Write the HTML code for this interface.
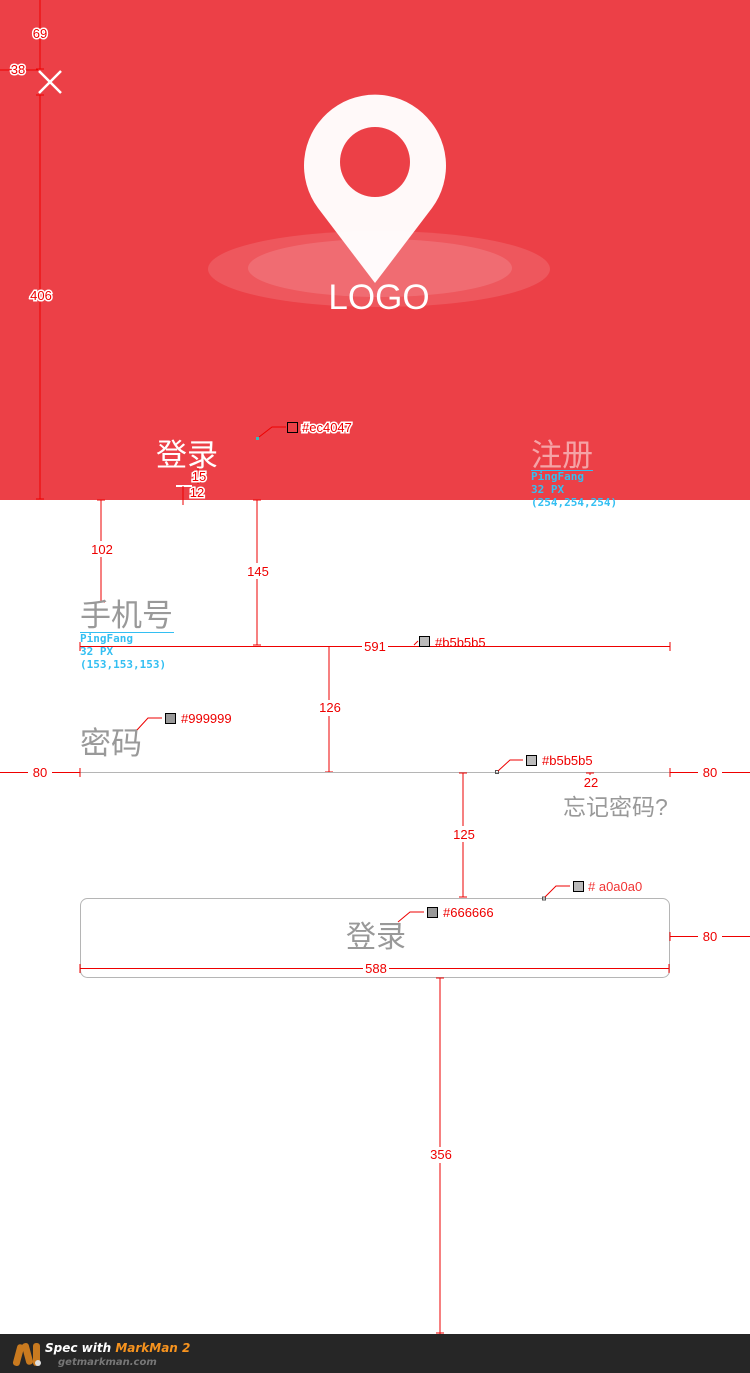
<!DOCTYPE html>
<html><head><meta charset="utf-8"><style>
html,body{margin:0;padding:0;background:#fff;}
svg{display:block;}
.r{fill:#e00;font-family:"Liberation Sans","DejaVu Sans",sans-serif;font-size:13px;}
.rw{fill:#e00;stroke:#fff;stroke-width:3px;paint-order:stroke;font-family:"Liberation Sans",sans-serif;font-size:13px;}
.b{fill:#33bff2;font-family:"DejaVu Sans Mono","Liberation Mono",monospace;font-weight:bold;font-size:11px;}
.cjk{font-family:"Liberation Sans","Noto Sans CJK SC",sans-serif;}
</style></head><body>
<svg width="750" height="1373" viewBox="0 0 750 1373" xmlns="http://www.w3.org/2000/svg">
<rect x="0" y="0" width="750" height="500" fill="#ec4047"/>
<ellipse cx="379" cy="269" rx="171" ry="38" fill="#fff" opacity="0.12"/>
<ellipse cx="380" cy="268" rx="132" ry="29" fill="#fff" opacity="0.13"/>
<path d="M375 283 L318 208 A71 71 0 1 1 432 208 Z" fill="#fff" opacity="0.97"/>
<circle cx="375" cy="162" r="35" fill="#ec4047"/>
<text x="379" y="309" text-anchor="middle" fill="#fff" font-family="Liberation Sans,sans-serif" font-size="35" font-weight="300">LOGO</text>
<path d="M39 71 L61 93 M61 71 L39 93" stroke="#fff" stroke-width="2.5"/>
<g stroke="#e00" stroke-width="1">
<line x1="40" y1="0" x2="40" y2="69"/><line x1="36" y1="69" x2="44" y2="69"/>
<line x1="0" y1="70" x2="38" y2="70"/>
<line x1="40" y1="95" x2="40" y2="499"/><line x1="36" y1="95" x2="44" y2="95"/><line x1="36" y1="499" x2="44" y2="499"/>
</g>
<text class="rw" x="40" y="38" text-anchor="middle">69</text>
<text class="rw" x="18" y="74" text-anchor="middle">38</text>
<text class="rw" x="41" y="300" text-anchor="middle">406</text>
<text x="187" y="466" text-anchor="middle" fill="#fff" font-size="31" class="cjk">登录</text>
<rect x="176" y="485" width="16" height="2" fill="#fff"/>
<g stroke="#e00"><line x1="198" y1="468" x2="198" y2="484"/><line x1="183" y1="486" x2="183" y2="505"/></g>
<text class="rw" x="199" y="481" text-anchor="middle" font-size="12">15</text>
<text class="rw" x="197" y="497" text-anchor="middle" font-size="12">12</text>
<text x="562" y="466" text-anchor="middle" fill="#f5a3a6" font-size="31" class="cjk">注册</text>
<line x1="531" y1="470.5" x2="593" y2="470.5" stroke="#33bff2"/>
<text class="b" x="531" y="480">PingFang</text>
<text class="b" x="531" y="493">32 PX</text>
<text class="b" x="531" y="506">(254,254,254)</text>
<rect x="256" y="437" width="3" height="3" fill="#3bb"/>
<path d="M259 437 L272 427 L286 427" stroke="#e00" fill="none"/>
<rect x="287.5" y="422.5" width="10" height="10" fill="none" stroke="#000"/>
<text class="rw" x="302" y="432">#ec4047</text>
<g stroke="#e00">
<line x1="101" y1="500" x2="101" y2="602"/><line x1="97" y1="500" x2="105" y2="500"/><line x1="97" y1="602" x2="105" y2="602"/>
<line x1="257" y1="500" x2="257" y2="645"/><line x1="253" y1="500" x2="261" y2="500"/><line x1="253" y1="645" x2="261" y2="645"/>
</g>
<rect x="88" y="541" width="28" height="16" fill="#fff"/><text class="r" x="102" y="554" text-anchor="middle">102</text>
<rect x="244" y="563" width="28" height="16" fill="#fff"/><text class="r" x="258" y="576" text-anchor="middle">145</text>
<text x="80" y="626" fill="#999" font-size="31" class="cjk">手机号</text>
<line x1="80" y1="632.5" x2="174" y2="632.5" stroke="#33bff2"/>
<text class="b" x="80" y="642">PingFang</text>
<text class="b" x="80" y="655">32 PX</text>
<text class="b" x="80" y="668">(153,153,153)</text>
<line x1="80" y1="646.5" x2="670" y2="646.5" stroke="#e00"/>
<line x1="80" y1="642" x2="80" y2="651" stroke="#e00"/><line x1="670" y1="642" x2="670" y2="651" stroke="#e00"/>
<rect x="362" y="639" width="26" height="14" fill="#fff"/><text class="r" x="375" y="651" text-anchor="middle">591</text>
<path d="M414 645 L418 641" stroke="#e00"/>
<rect x="419.5" y="636.5" width="10" height="10" fill="#bbb" stroke="#000"/>
<text class="r" x="435" y="647">#b5b5b5</text>
<g stroke="#e00"><line x1="329" y1="647" x2="329" y2="772"/><line x1="325" y1="772" x2="333" y2="772"/></g>
<rect x="316" y="700" width="28" height="16" fill="#fff"/><text class="r" x="330" y="712" text-anchor="middle">126</text>
<text x="80" y="754" fill="#999" font-size="31" class="cjk">密码</text>
<path d="M137 730 L148 718 L162 718" stroke="#e00" fill="none"/>
<rect x="165.5" y="713.5" width="10" height="10" fill="#999" stroke="#000"/>
<text class="r" x="181" y="723">#999999</text>
<line x1="80" y1="772.5" x2="670" y2="772.5" stroke="#b5b5b5"/>
<g stroke="#e00">
<line x1="0" y1="772.5" x2="80" y2="772.5"/><line x1="80" y1="768" x2="80" y2="777"/>
<line x1="670" y1="772.5" x2="750" y2="772.5"/><line x1="670" y1="768" x2="670" y2="777"/>
</g>
<rect x="28" y="764" width="24" height="15" fill="#fff"/><text class="r" x="40" y="777" text-anchor="middle">80</text>
<rect x="698" y="764" width="24" height="15" fill="#fff"/><text class="r" x="710" y="777" text-anchor="middle">80</text>
<rect x="495.5" y="770.5" width="3" height="3" fill="none" stroke="#555"/>
<path d="M498 771 L510 760 L523 760" stroke="#e00" fill="none"/>
<rect x="526.5" y="755.5" width="10" height="10" fill="#bbb" stroke="#000"/>
<text class="r" x="542" y="765">#b5b5b5</text>
<g stroke="#e00"><line x1="590" y1="773" x2="590" y2="787"/><line x1="586" y1="773" x2="594" y2="773"/><line x1="586" y1="787" x2="594" y2="787"/></g>
<rect x="581" y="775" width="20" height="13" fill="#fff"/><text class="r" x="591" y="787" text-anchor="middle">22</text>
<text x="563" y="815" fill="#999" font-size="23" class="cjk">忘记密码?</text>
<g stroke="#e00"><line x1="463" y1="773" x2="463" y2="897"/><line x1="459" y1="773" x2="467" y2="773"/><line x1="459" y1="897" x2="467" y2="897"/></g>
<rect x="450" y="826" width="28" height="16" fill="#fff"/><text class="r" x="464" y="839" text-anchor="middle">125</text>
<rect x="80.5" y="898.5" width="589" height="79" rx="7" fill="none" stroke="#b5b5b5"/>
<rect x="542.5" y="897" width="3" height="3" fill="none" stroke="#555"/>
<path d="M545 897 L556 886 L570 886" stroke="#e00" fill="none"/>
<rect x="573.5" y="881.5" width="10" height="10" fill="#bbb" stroke="#000"/>
<text class="r" x="588" y="891" fill-opacity="0.8"># a0a0a0</text>
<text x="376" y="947" text-anchor="middle" fill="#999" font-size="30" class="cjk">登录</text>
<path d="M398 922 L410 912 L424 912" stroke="#e00" fill="none"/>
<rect x="427.5" y="907.5" width="10" height="10" fill="#999" stroke="#000"/>
<text class="r" x="443" y="917">#666666</text>
<g stroke="#e00">
<line x1="80" y1="968.5" x2="669" y2="968.5"/><line x1="80" y1="964" x2="80" y2="973"/><line x1="669" y1="964" x2="669" y2="973"/>
<line x1="670" y1="936.5" x2="750" y2="936.5"/><line x1="670" y1="932" x2="670" y2="941"/>
<line x1="440" y1="978" x2="440" y2="1334"/><line x1="436" y1="978" x2="444" y2="978"/><line x1="436" y1="1333" x2="444" y2="1333"/>
</g>
<rect x="363" y="961" width="26" height="14" fill="#fff"/><text class="r" x="376" y="973" text-anchor="middle">588</text>
<rect x="698" y="929" width="24" height="15" fill="#fff"/><text class="r" x="710" y="941" text-anchor="middle">80</text>
<rect x="427" y="1147" width="28" height="16" fill="#fff"/><text class="r" x="441" y="1159" text-anchor="middle">356</text>
<rect x="0" y="1334" width="750" height="39" fill="#262626"/>
<g fill="#c97a1f"><rect x="15" y="1344" width="7" height="22" rx="3" transform="rotate(15 18 1355)"/><rect x="24" y="1343" width="7" height="22" rx="3" transform="rotate(-15 27 1354)"/><rect x="33" y="1343" width="7" height="23" rx="3"/></g>
<circle cx="38" cy="1363" r="3" fill="#ddd"/>
<text x="45" y="1352" fill="#fff" font-family="DejaVu Sans,sans-serif" font-style="italic" font-weight="bold" font-size="12">Spec with <tspan fill="#f7931e">MarkMan 2</tspan></text>
<text x="58" y="1365" fill="#777" font-family="DejaVu Sans,sans-serif" font-style="italic" font-weight="bold" font-size="10">getmarkman.com</text>
</svg>
</body></html>
